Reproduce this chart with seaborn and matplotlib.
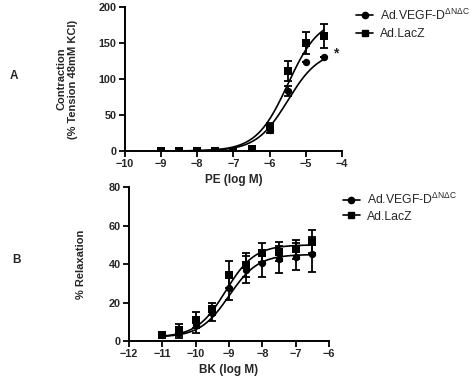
import numpy as np
import pandas as pd
import matplotlib
matplotlib.use("Agg")
import matplotlib.pyplot as plt
import seaborn as sns
from matplotlib.lines import Line2D

# ---------------- data ----------------
series_names = ["Ad.VEGF-D$^{\\mathrm{\u0394N\u0394C}}$", "Ad.LacZ"]

# Panel A: PE contraction
pe_logM = [-9, -8.5, -8, -7.5, -7, -6.5, -6, -5.5, -5, -4.5]
pe_vegf = [0, 0, 0, 0, 0, 1, 29, 83, 123, 131]
pe_vegf_sem = [0, 0, 0, 0, 0, 1, 4, 7, 0, 0]
pe_lacz = [0, 0, 0, 0, 0, 3, 34, 111, 150, 160]
pe_lacz_sem = [0, 0, 0, 0, 0, 1, 5, 14, 15, 17]
# sigmoid fit parameters: bottom, top, logEC50, hill
pe_fit_vegf = (0, 140, -5.5, 1.0)
pe_fit_lacz = (0, 185, -5.5, 1.0)

# Panel B: BK relaxation
bk_logM = [-11, -10.5, -10, -9.5, -9, -8.5, -8, -7.5, -7, -6.5]
bk_vegf = [3, 4.5, 8.3, 14.4, 27.4, 37, 40.3, 42.4, 43.8, 45]
bk_vegf_sem = [1, 3, 4, 4, 6, 7, 7, 7, 7, 9]
bk_lacz = [3, 5.7, 10.9, 16.5, 34.5, 39.5, 45.9, 46.4, 47.6, 51.6]
bk_lacz_sem = [1, 3, 4, 3, 7, 6, 5, 5, 5, 6]
bk_fit_vegf = (2, 45, -9.0, 1.0)
bk_fit_lacz = (2, 50, -9.1, 1.0)


def hill(x, p):
    b, t, ec, h = p
    return b + (t - b) / (1 + 10 ** ((ec - x) * h))


# ---------------- style ----------------
sns.set_style("ticks")
plt.rcParams['font.family'] = ['Liberation Sans', 'DejaVu Sans']
plt.rcParams['mathtext.fontset'] = 'custom'
plt.rcParams['mathtext.rm'] = 'Liberation Sans'
plt.rcParams['mathtext.it'] = 'Liberation Sans'

fig = plt.figure(figsize=(4.74, 3.8), dpi=100)
axA = fig.add_axes([0.2637, 0.6026, 0.4578, 0.379])
axB = fig.add_axes([0.2722, 0.1026, 0.422, 0.405])

lw = 1.2


def draw(ax, xs, y1, e1, y2, e2, f1, f2):
    xfit = np.linspace(min(xs), max(xs), 200)
    for yv, ev, fp, mk in [(y1, e1, f1, 'o'), (y2, e2, f2, 's')]:
        d = pd.DataFrame({"x": xfit, "y": hill(xfit, fp)})
        sns.lineplot(data=d, x="x", y="y", ax=ax, color="black", lw=lw, legend=False)
        ax.errorbar(xs, yv, yerr=ev, fmt='none', ecolor='black', elinewidth=1.3,
                    capsize=3, capthick=1.3, zorder=3)
        pts = pd.DataFrame({"x": xs, "y": yv})
        sns.scatterplot(data=pts, x="x", y="y", ax=ax, marker=mk, color="black",
                        s=28, edgecolor="black", linewidth=0, zorder=4, legend=False)


draw(axA, pe_logM, pe_vegf, pe_vegf_sem, pe_lacz, pe_lacz_sem, pe_fit_vegf, pe_fit_lacz)
draw(axB, bk_logM, bk_vegf, bk_vegf_sem, bk_lacz, bk_lacz_sem, bk_fit_vegf, bk_fit_lacz)

axA.set_xlim(-10, -4)
axA.set_ylim(0, 200)
axA.set_xticks(range(-10, -3))
axA.set_yticks(range(0, 201, 50))
axB.set_xlim(-12, -6)
axB.set_ylim(0, 80)
axB.set_xticks(range(-12, -5))
axB.set_yticks(range(0, 81, 20))

for ax in (axA, axB):
    sns.despine(ax=ax)
    for s in ("left", "bottom"):
        ax.spines[s].set_linewidth(1.4)
        ax.spines[s].set_color("black")
    ax.tick_params(axis='both', length=4, width=1.3, color='black', pad=2,
                   labelsize=7.8)
    for lab in ax.get_xticklabels() + ax.get_yticklabels():
        lab.set_fontweight('bold')
    ax.set_facecolor('white')

axA.set_xlabel("PE (log M)", fontsize=8.5, fontweight='bold', labelpad=3)
axA.set_ylabel("Contraction\n(% Tension 48mM KCl)", fontsize=8, fontweight='bold',
               labelpad=15, linespacing=1.2)
axB.set_xlabel("BK (log M)", fontsize=8.5, fontweight='bold', labelpad=3)
axB.set_ylabel("% Relaxation", fontsize=8, fontweight='bold', labelpad=16)

axA.text(-4.17, 136, "*", fontsize=10, ha='center', va='center', fontweight='bold')

fig.text(0.03, 0.80, "A", fontsize=8.5, fontweight='bold', ha='center', va='center')
fig.text(0.035, 0.315, "B", fontsize=8.5, fontweight='bold', ha='center', va='center')

handles = [Line2D([0], [0], color='black', lw=1.2, marker='o', markersize=4.5),
           Line2D([0], [0], color='black', lw=1.2, marker='s', markersize=4.5)]

fig.legend(handles, series_names, loc='upper left', bbox_to_anchor=(0.733, 1.003),
           frameon=False, fontsize=8.8, handlelength=1.4, handletextpad=0.6,
           labelspacing=0.45, borderaxespad=0.3)
fig.legend(handles, series_names, loc='upper left', bbox_to_anchor=(0.705, 0.518),
           frameon=False, fontsize=8.8, handlelength=1.4, handletextpad=0.6,
           labelspacing=0.3, borderaxespad=0.3)

fig.savefig("out.png", dpi=100, facecolor='white')
